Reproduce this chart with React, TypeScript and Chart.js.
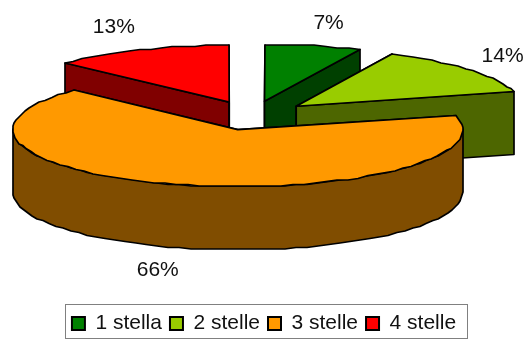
import React, { useEffect, useRef } from "react";
import { Chart, registerables } from "chart.js";

Chart.register(...registerables);

const categories = ["1 stella", "2 stelle", "3 stelle", "4 stelle"];
const shares = [7, 14, 66, 13];
const topColors = ["#008000", "#99cc00", "#ff9900", "#ff0000"];
const sideColors = ["#004000", "#4d6600", "#804d00", "#800000"];
const labelNudges = [
  [15, -22],
  [33, -14],
  [-24, 85],
  [-26, -23],
];

const PIE_CENTER: [number, number] = [252, 115.5];
const RIM_X = 225;
const RIM_Y = 57;
const DEPTH = 63;
const EXPLODE = 0.255;
const FONT = '21px "Liberation Sans", Arial, sans-serif';

type Pt = [number, number];

// Walks an elliptical rim with short chords snapped to the pixel grid,
// which gives the outline its slightly hand-cut edge.
function rim(cx: number, cy: number, a0: number, a1: number): Pt[] {
  const step = (3 * Math.PI) / 180;
  const n = Math.max(1, Math.round((a1 - a0) / step));
  const pts: Pt[] = [];
  for (let i = 0; i <= n; i++) {
    const a = a0 + ((a1 - a0) * i) / n;
    pts.push([
      Math.round(cx + RIM_X * Math.cos(a)),
      Math.round((cy + RIM_Y * Math.sin(a)) / 1.5) * 1.5,
    ]);
  }
  return pts;
}

function fillPoly(ctx: CanvasRenderingContext2D, pts: Pt[], fill: string) {
  ctx.beginPath();
  pts.forEach(([x, y], i) => (i ? ctx.lineTo(x, y) : ctx.moveTo(x, y)));
  ctx.closePath();
  ctx.fillStyle = fill;
  ctx.fill();
  ctx.stroke();
}

const slices3d = {
  id: "slices3d",
  // Replaces the flat arcs with extruded, exploded wedges seen at a low angle.
  beforeDatasetsDraw(chart: any) {
    const ctx: CanvasRenderingContext2D = chart.ctx;
    const arcs: any[] = chart.getDatasetMeta(0).data;
    const wedges = arcs.map((arc, index) => {
      const mid = (arc.startAngle + arc.endAngle) / 2;
      return {
        index,
        arc,
        mid,
        x: PIE_CENTER[0] + Math.cos(mid) * RIM_X * EXPLODE,
        y: PIE_CENTER[1] + Math.sin(mid) * RIM_Y * EXPLODE,
      };
    });
    wedges.sort((a, b) => a.y - b.y);

    ctx.save();
    ctx.lineWidth = 1.7;
    ctx.lineJoin = "round";
    ctx.strokeStyle = "#000";
    for (const w of wedges) {
      const { arc, x, y, index } = w;
      const side = sideColors[index];
      const lower = (p: Pt): Pt => [p[0], p[1] + DEPTH];
      const outline = rim(x, y, arc.startAngle, arc.endAngle);

      // Cut faces behind the outer wall.
      for (const end of [outline[0], outline[outline.length - 1]]) {
        const apex: Pt = [x, y];
        fillPoly(ctx, [apex, end, lower(end), lower(apex)], side);
      }
      // Outer wall, only where it faces the viewer.
      const from = Math.max(arc.startAngle, 0);
      const to = Math.min(arc.endAngle, Math.PI);
      if (to > from) {
        const front = rim(x, y, from, to);
        fillPoly(ctx, [...front, ...front.map(lower).reverse()], side);
      }
      fillPoly(ctx, [[x, y], ...outline], topColors[index]);
    }
    ctx.restore();
    return false;
  },
  afterDraw(chart: any) {
    const ctx: CanvasRenderingContext2D = chart.ctx;
    const arcs: any[] = chart.getDatasetMeta(0).data;
    ctx.save();
    ctx.font = FONT;
    ctx.fillStyle = "#111";
    ctx.textAlign = "center";
    ctx.textBaseline = "middle";
    arcs.forEach((arc, i) => {
      const mid = (arc.startAngle + arc.endAngle) / 2;
      const k = 1 + EXPLODE;
      ctx.fillText(
        `${shares[i]}%`,
        PIE_CENTER[0] + Math.cos(mid) * RIM_X * k + labelNudges[i][0],
        PIE_CENTER[1] + Math.sin(mid) * RIM_Y * k + labelNudges[i][1]
      );
    });
    // Frame around the legend row.
    const boxes = chart.legend.legendHitBoxes;
    const first = boxes[0];
    const last = boxes[boxes.length - 1];
    ctx.strokeStyle = "#808080";
    ctx.lineWidth = 1;
    ctx.strokeRect(
      Math.round(first.left) - 6.5,
      Math.round(first.top) - 8.5,
      Math.round(last.left + last.width - first.left) + 18,
      34
    );
    ctx.restore();
  },
};

export default function App() {
  const ref = useRef<HTMLCanvasElement>(null);
  useEffect(() => {
    const chart = new Chart(ref.current as HTMLCanvasElement, {
      type: "pie",
      data: {
        labels: categories,
        datasets: [
          {
            data: shares,
            backgroundColor: topColors,
            borderColor: "#000",
            borderWidth: 2,
          },
        ],
      },
      options: {
        responsive: false,
        animation: false,
        layout: { padding: { bottom: -4, left: 4 } },
        plugins: {
          tooltip: { enabled: false },
          legend: {
            position: "bottom",
            labels: {
              boxWidth: 13,
              boxHeight: 13,
              padding: 8,
              color: "#111",
              font: { family: '"Liberation Sans", Arial, sans-serif', size: 21 },
            },
          },
        },
      },
      plugins: [slices3d],
    } as any);
    return () => chart.destroy();
  }, []);
  return (
    <canvas
      ref={ref}
      width={524}
      height={340}
      style={{ position: "absolute", left: 0, top: 0, display: "block" }}
    />
  );
}
